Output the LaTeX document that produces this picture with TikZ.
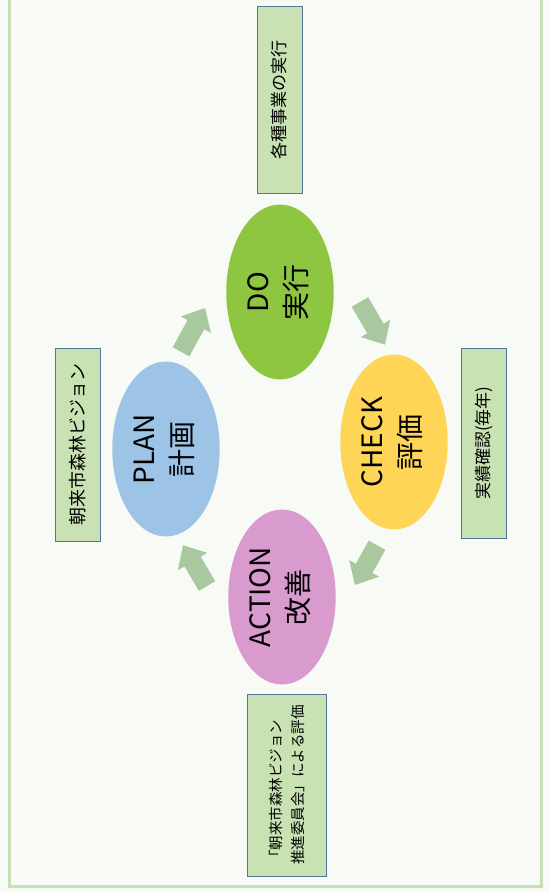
\documentclass[tikz,border=0pt]{standalone}
\usepackage{fontspec}
\setmainfont{Noto Sans CJK JP}
\usetikzlibrary{arrows.meta,shapes.geometric}
\definecolor{bgpaper}{HTML}{F8FBF5}
\definecolor{framegreen}{HTML}{C5E0B4}
\definecolor{boxfill}{HTML}{C9E2B3}
\definecolor{boxline}{HTML}{55789A}
\definecolor{flowgreen}{HTML}{A9C8A0}
\definecolor{dogreen}{HTML}{8EC641}
\definecolor{planblue}{HTML}{9DC3E6}
\definecolor{checkyellow}{HTML}{FFD557}
\definecolor{actpink}{HTML}{D99BCE}
\newcommand{\steplabel}[2]{\rotatebox{90}{\begin{tabular}{@{}c@{}}#1\\#2\end{tabular}}}
\tikzset{
  phase/.style={ellipse, inner sep=0pt, minimum width=94pt, minimum height=175pt,
    font=\fontsize{28}{38}\selectfont},
  notebox/.style={draw=boxline, line width=0.8pt, fill=boxfill, rotate=90,
    inner sep=2pt, font=\fontsize{17}{21}\selectfont},
  flow/.style={flowgreen, line width=19pt, -{Triangle[width=33pt,length=19pt]}}
}
\begin{document}
\begin{tikzpicture}[x=1pt,y=-1pt]
\fill[bgpaper] (0,0) rectangle (550,892);
\useasboundingbox (0,0) rectangle (550,892);
% frame
\draw[framegreen, line width=3pt] (9.5,-10) -- (9.5,886) -- (541,886) -- (541,-10);

% the four steps
\node[phase, fill=dogreen]     (do)     at (280,292) {\steplabel{DO}{実行}};
\node[phase, fill=planblue, minimum width=88pt] (plan) at (166,449) {\steplabel{PLAN}{計画}};
\node[phase, fill=checkyellow] (check)  at (394,442) {\steplabel{CHECK}{評価}};
\node[phase, fill=actpink]     (action) at (282,597) {\steplabel{ACTION}{改善}};

% notes
\node[notebox, minimum width=187pt, minimum height=45pt] (donote) at (279.5,99.5) {各種事業の実行};
\node[notebox, minimum width=193pt, minimum height=45pt, font=\fontsize{18}{22}\selectfont] (plannote) at (77.5,444.5) {朝来市森林ビジョン};
\node[notebox, minimum width=190pt, minimum height=45pt] (checknote) at (483.5,443) {実績確認(毎年)};
\node[notebox, minimum width=182pt, minimum height=79pt, align=left, font=\fontsize{14.5}{22}\selectfont] (actnote) at (286.5,785)
  {「朝来市森林ビジョン\\推進委員会」による評価};

% cycle arrows
\draw[flow] ([shift={(15,-9.5)}]plan.north) -- ([shift={(-21,16)}]do.west);
\draw[flow] ([shift={(26,10)}]do.east) -- ([shift={(-9,-9.5)}]check.north);
\draw[flow] ([shift={(-17,15.5)}]check.south) -- ([shift={(19,-12)}]action.east);
\draw[flow] ([shift={(-21,-11)}]action.west) -- ([shift={(17,8.5)}]plan.south);
\end{tikzpicture}
\end{document}
